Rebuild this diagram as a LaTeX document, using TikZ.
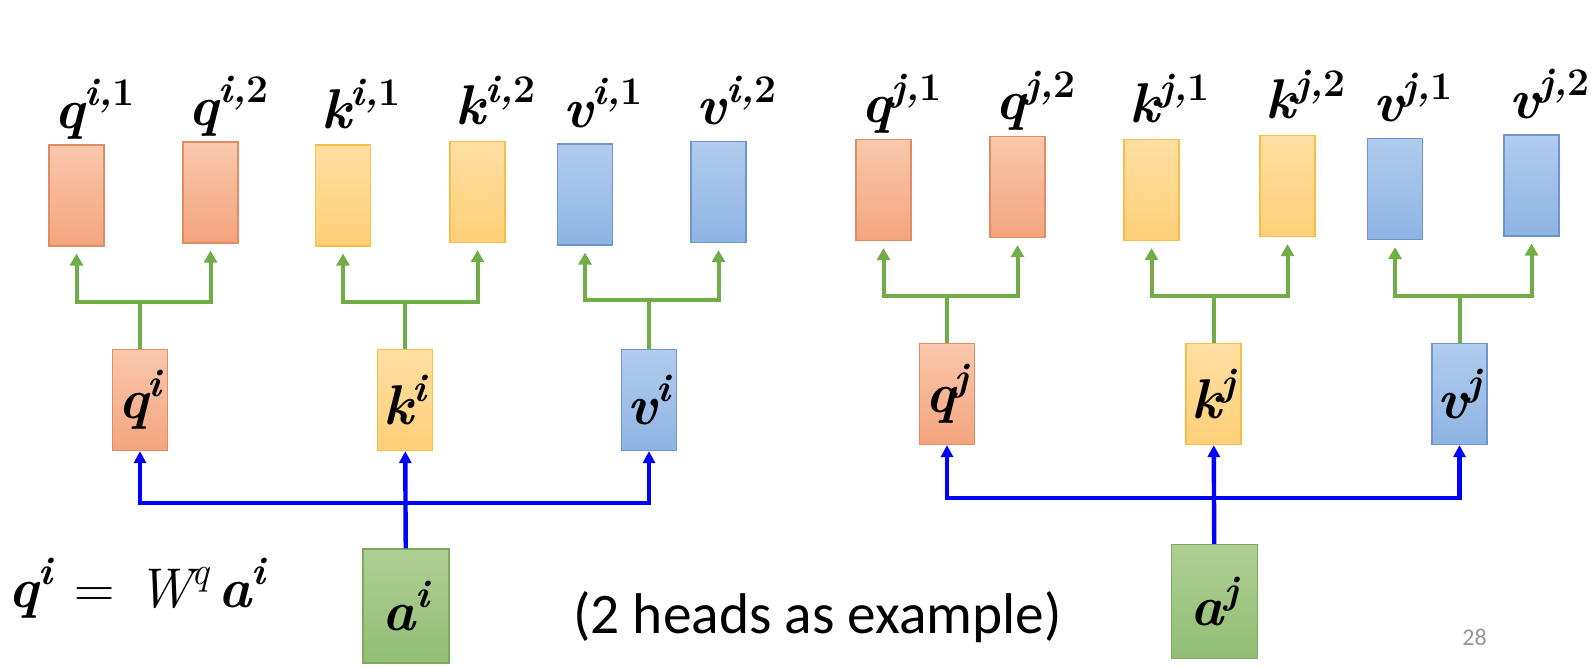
\documentclass[tikz,border=0pt]{standalone}
\usepackage{fontspec}
\usetikzlibrary{arrows.meta}
\newfontfamily\calibri{Carlito}

% raised small text and bold italic vectors, all in text mode
\newcommand{\hsup}[1]{\raisebox{0.4em}{\fontsize{19.6}{20}\selectfont #1}}
\newcommand{\hv}[3]{{\bfseries\itshape #1\hsup{#2,{\upshape #3}}}}
\newcommand{\tv}[2]{{\bfseries\itshape #1\hsup{#2}}}

\definecolor{qtop}{RGB}{250,200,172}
\definecolor{qbot}{RGB}{244,164,126}
\definecolor{qline}{RGB}{226,140,100}
\definecolor{ktop}{RGB}{255,223,162}
\definecolor{kbot}{RGB}{255,207,120}
\definecolor{kline}{RGB}{247,190,70}
\definecolor{vtop}{RGB}{176,204,238}
\definecolor{vbot}{RGB}{142,180,228}
\definecolor{vline}{RGB}{110,150,205}
\definecolor{atop}{RGB}{174,207,148}
\definecolor{abot}{RGB}{146,190,116}
\definecolor{aline}{RGB}{125,170,95}
\definecolor{grn}{RGB}{112,173,71}
\definecolor{blu}{RGB}{0,0,255}
\definecolor{pagegray}{RGB}{150,150,150}

\tikzset{
  box/.style={draw, line width=0.6pt, inner sep=0pt, minimum width=27.5pt, minimum height=50.5pt},
  qcol/.style={draw=qline, top color=qtop, bottom color=qbot},
  kcol/.style={draw=kline, top color=ktop, bottom color=kbot},
  vcol/.style={draw=vline, top color=vtop, bottom color=vbot},
  acol/.style={draw=aline, top color=atop, bottom color=abot},
  abox/.style={box, acol, minimum width=43pt, minimum height=57pt},
  headlab/.style={inner sep=0pt, anchor=base},
  grarrow/.style={draw=grn, line width=2pt, shorten >=3.5pt, -{Triangle[length=6pt,width=6.5pt]}},
  blarrow/.style={draw=blu, line width=2.2pt, -{Triangle[length=6pt,width=6pt]}}
}

\begin{document}
\begin{tikzpicture}[x=0.5pt, y=-0.5pt, font=\fontsize{28}{34}\selectfont]
  \useasboundingbox (0,0) rectangle (1593,666);

  % heads of token i
  \node[box, qcol] (qi1) at (76.5,195.5) {};
  \node[box, qcol] (qi2) at (210.5,192.5) {};
  \node[box, kcol] (ki1) at (343,195.5) {};
  \node[box, kcol] (ki2) at (477.5,192) {};
  \node[box, vcol] (vi1) at (585,194.5) {};
  \node[box, vcol] (vi2) at (718.5,192) {};
  \node[headlab] (lqi1) at (94.5,128) {\hv{q}{i}{1}};
  \node[headlab] (lqi2) at (228.5,125) {\hv{q}{i}{2}};
  \node[headlab] (lki1) at (361,128) {\hv{k}{i}{1}};
  \node[headlab] (lki2) at (495.5,124.5) {\hv{k}{i}{2}};
  \node[headlab] (lvi1) at (603,127) {\hv{v}{i}{1}};
  \node[headlab] (lvi2) at (736.5,124.5) {\hv{v}{i}{2}};

  % heads of token j
  \node[box, qcol] (qj1) at (883.5,190) {};
  \node[box, qcol] (qj2) at (1017.5,187) {};
  \node[box, kcol] (kj1) at (1151.5,190) {};
  \node[box, kcol] (kj2) at (1287.5,186) {};
  \node[box, vcol] (vj1) at (1395,189) {};
  \node[box, vcol] (vj2) at (1531.5,185.5) {};
  \node[headlab] (lqj1) at (901.5,122.5) {\hv{q}{j}{1}};
  \node[headlab] (lqj2) at (1035.5,119.5) {\hv{q}{j}{2}};
  \node[headlab] (lkj1) at (1169.5,122.5) {\hv{k}{j}{1}};
  \node[headlab] (lkj2) at (1305.5,118.5) {\hv{k}{j}{2}};
  \node[headlab] (lvj1) at (1413,121.5) {\hv{v}{j}{1}};
  \node[headlab] (lvj2) at (1549.5,118) {\hv{v}{j}{2}};

  % q, k, v and the inputs
  \node[box, qcol] (qi) at (140,400) {\tv{q}{i}};
  \node[box, kcol] (ki) at (405,400) {\tv{k}{i}};
  \node[box, vcol] (vi) at (649,400) {\tv{v}{i}};
  \node[box, qcol] (qj) at (947,394) {\tv{q}{j}};
  \node[box, kcol] (kj) at (1213.5,394) {\tv{k}{j}};
  \node[box, vcol] (vj) at (1459.5,394) {\tv{v}{j}};
  \node[abox] (ai) at (406,606) {\tv{a}{i}};
  \node[abox] (aj) at (1214.5,601.5) {\tv{a}{j}};

  % split into heads
  \coordinate (fqi) at (140,302);
  \coordinate (fki) at (405,302);
  \coordinate (fvi) at (649,300);
  \coordinate (fqj) at (947,296);
  \coordinate (fkj) at (1213.5,296);
  \coordinate (fvj) at (1459.5,296);
  \foreach \n in {qi,ki,vi,qj,kj,vj}{
    \draw[grarrow] (\n) -- (f\n) -| (\n1);
    \draw[grarrow] (f\n) -| (\n2);
  }

  % a to q, k, v
  \coordinate (bi) at (406,503);
  \coordinate (bj) at (1214.5,498);
  \draw[blarrow] (ai) -- (ki);
  \draw[blarrow] (bi) -| (qi);
  \draw[blarrow] (bi) -| (vi);
  \draw[blarrow] (aj) -- (kj);
  \draw[blarrow] (bj) -| (qj);
  \draw[blarrow] (bj) -| (vj);

  \node[anchor=base west, inner sep=0pt] (eq) at (8,607) {\tv{q}{i}\hspace{0.4em}=\hspace{0.4em}{\itshape W\hsup{q}}\hspace{0.15em}\tv{a}{i}};
  \node[anchor=base west, inner sep=0pt, font=\calibri\fontsize{28.7}{34}\selectfont] (note) at (573,633) {(2 heads as example)};
  \node[anchor=base west, inner sep=0pt, font=\calibri\fontsize{12}{14}\selectfont, text=pagegray] (page) at (1462,645) {28};
\end{tikzpicture}
\end{document}
